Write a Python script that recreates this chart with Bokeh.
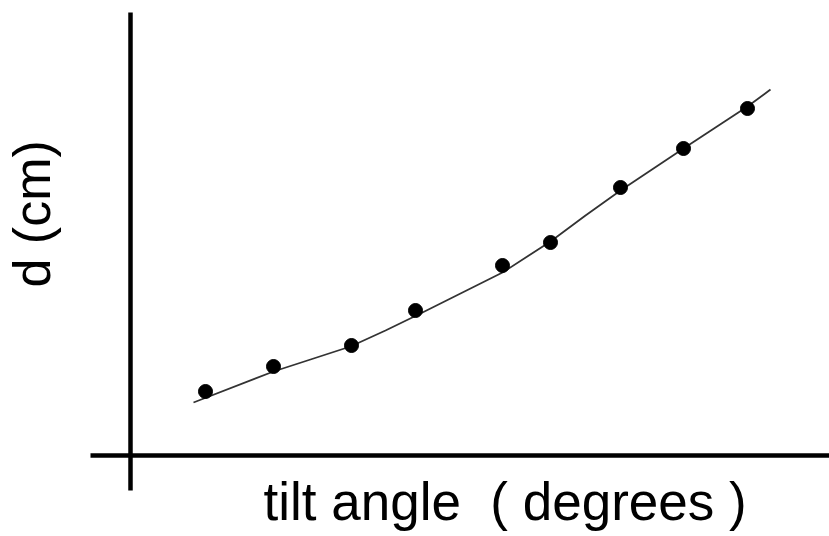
import math
from bokeh.plotting import figure
from bokeh.models import Range1d, Label
from bokeh.embed import file_html
from bokeh.resources import INLINE

# measured points (arbitrary units: tilt angle, d)
tilt = [7.5, 14.3, 22.1, 28.5, 37.2, 42.0, 49.0, 55.3, 61.7]
d_cm = [6.4, 8.9, 11.0, 14.5, 19.0, 21.3, 26.8, 30.7, 34.7]

# fitted curve
fit_x = [6.3, 14.3, 18.0, 22.0, 25.5, 29.0, 33.0, 37.2, 42.0, 45.5, 49.0, 55.3, 61.7, 64.0]
fit_y = [5.3, 8.4, 9.6, 10.9, 12.5, 14.2, 16.2, 18.3, 21.4, 24.0, 26.5, 30.7, 34.9, 36.6]

# axis line extents
x_axis_span = [-4.0, 69.9]
y_axis_span = [-3.5, 44.3]

p = figure(width=829, height=536, output_backend="svg", toolbar_location=None,
           x_range=Range1d(-13.0, 69.9), y_range=Range1d(-8.1, 45.5),
           x_axis_type=None, y_axis_type=None,
           min_border_left=0, min_border_right=0, min_border_top=0, min_border_bottom=0)
p.grid.visible = False
p.outline_line_color = None
p.background_fill_color = "white"
p.border_fill_color = "white"

# axes drawn as thick lines crossing at origin
p.line(x_axis_span, [0, 0], line_color="black", line_width=4.5, line_cap="butt")
p.line([0, 0], y_axis_span, line_color="black", line_width=4.5, line_cap="butt")

p.line(fit_x, fit_y, line_color="#333333", line_width=1.8)
p.scatter(tilt, d_cm, size=14, fill_color="black", line_color="black")

p.add_layout(Label(x=263, y=35, x_units="screen", y_units="screen",
                   text="tilt angle\u00a0\u00a0(\u00a0degrees\u00a0)", text_font="Liberation Sans",
                   text_font_size="53px", text_color="black",
                   text_baseline="alphabetic", text_align="left"))
p.add_layout(Label(x=31, y=249, x_units="screen", y_units="screen",
                   text="d (cm)", text_font="Liberation Sans",
                   text_font_size="52px", text_color="black", angle=math.pi / 2,
                   text_baseline="alphabetic", text_align="left"))

open("out.html", "w").write(file_html(p, INLINE))
